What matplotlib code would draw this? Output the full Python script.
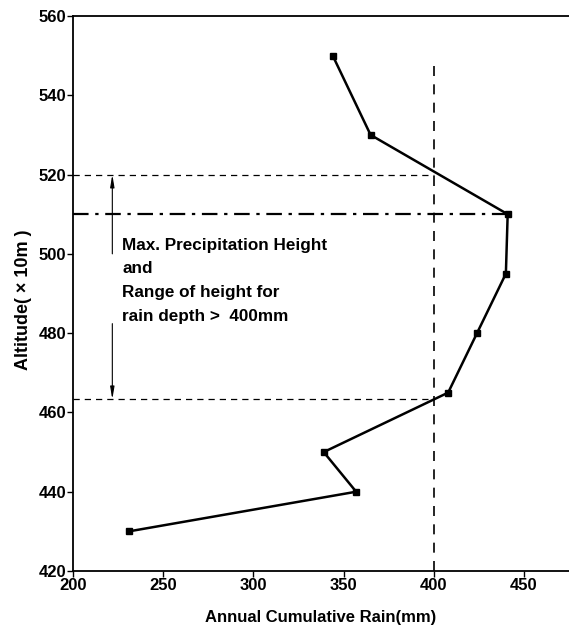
import matplotlib.pyplot as plt

plt.rcParams['font.family'] = ['Liberation Sans', 'DejaVu Sans']
plt.rcParams['font.weight'] = 'bold'

# rain profile
rain = [231, 357, 339, 408, 424, 440, 441, 365, 344]
altitude = [430, 440, 450, 465, 480, 495, 510, 530, 550]

threshold_rain = 400
max_height = 510
range_top = 520
range_bottom = 463.3
threshold_line_top = 549

note = 'Max. Precipitation Height\nand\nRange of height for\nrain depth >  400mm'
x_ticks = [200, 250, 300, 350, 400, 450]
y_ticks = [420, 440, 460, 480, 500, 520, 540, 560]


def main():
    fig = plt.figure(figsize=(5.69, 6.32), dpi=100)
    ax = fig.add_axes([0.1283, 0.0965, 0.8717, 0.8782])

    # guide lines
    ax.plot([200, threshold_rain], [range_top, range_top], color='k', lw=0.9,
            linestyle=(0, (5, 4)))
    ax.plot([200, threshold_rain], [range_bottom, range_bottom], color='k', lw=0.9,
            linestyle=(0, (5, 4)))
    ax.plot([threshold_rain, threshold_rain], [420, threshold_line_top], color='k',
            lw=1.2, linestyle=(0, (6, 5)))
    ax.plot([200, rain[altitude.index(max_height)]], [max_height, max_height],
            color='k', lw=1.6, linestyle=(0, (7, 3, 1.5, 3)))

    # the profile itself
    ax.plot(rain, altitude, color='k', lw=1.8, marker='s', markersize=4.5)

    # arrows bracketing the range
    arrow = dict(arrowstyle='-|>,head_length=0.6,head_width=0.1', color='k',
                 lw=0.8, mutation_scale=12, shrinkA=0, shrinkB=0)
    ax.annotate('', xy=(221.8, range_top), xytext=(221.8, 500), arrowprops=arrow)
    ax.annotate('', xy=(221.8, range_bottom), xytext=(221.8, 482.4),
                arrowprops=arrow)

    ax.text(227.3, 504.1, note, fontsize=12.3, fontweight='bold', va='top',
            ha='left', linespacing=1.72)

    ax.set_xlim(200, 475)
    ax.set_ylim(420, 560)
    ax.set_xticks(x_ticks)
    ax.set_yticks(y_ticks)
    ax.tick_params(direction='out', length=4, width=1, labelsize=12, pad=1)
    for lbl in ax.get_xticklabels() + ax.get_yticklabels():
        lbl.set_fontweight('bold')

    ax.spines['right'].set_visible(False)
    for s in ['left', 'bottom', 'top']:
        ax.spines[s].set_linewidth(1.3)

    ax.set_xlabel('Annual Cumulative Rain(mm)', fontsize=12, fontweight='bold',
                  labelpad=12)
    ax.set_ylabel('Altitude( \u00d7 10m )', fontsize=13, fontweight='bold')
    ax.yaxis.set_label_coords(-0.083, 0.488)

    fig.savefig('out.png', dpi=100)


if __name__ == "__main__":
    main()
